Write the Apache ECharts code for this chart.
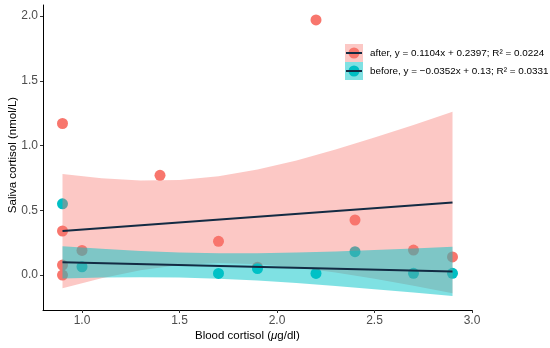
<!DOCTYPE html>
<html>
<head>
<meta charset="utf-8">
<script src="https://cdn.jsdelivr.net/npm/echarts@6/dist/echarts.min.js"></script>
<style>
html,body{margin:0;padding:0;background:#fff;}
#chart{width:550px;height:348px;}
</style>
</head>
<body>
<div id="chart"></div>
<script>
// ---- data ----
const xTicks = [1.0, 1.5, 2.0, 2.5, 3.0];
const yTicks = [0.0, 0.5, 1.0, 1.5, 2.0];

const groups = ['after', 'before'];

const afterX = [0.9, 0.9, 0.9, 0.9, 1.0, 1.4, 1.7, 1.9, 2.2, 2.4, 2.7, 2.9];
const afterY = [1.17, 0.34, 0.077, 0.0, 0.19, 0.77, 0.26, 0.06, 1.97, 0.425, 0.193, 0.14];

const beforeX = [0.9, 1.0, 1.7, 1.9, 2.2, 2.4, 2.7, 2.9];
const beforeY = [0.55, 0.064, 0.012, 0.05, 0.012, 0.18, 0.013, 0.013];

// regression coefficients (from legend)
const afterFit = {slope: 0.1104, intercept: 0.2397, r2: 0.0224};
const beforeFit = {slope: -0.0352, intercept: 0.13, r2: 0.0331};

// confidence band edges
const bandX = [0.9, 1.1, 1.3, 1.5, 1.7, 1.9, 2.1, 2.3, 2.5, 2.7, 2.9];
const afterUpper = [0.780, 0.747, 0.729, 0.733, 0.762, 0.814, 0.884, 0.969, 1.061, 1.158, 1.260];
const afterLower = [-0.102, -0.025, 0.037, 0.077, 0.092, 0.084, 0.058, 0.019, -0.029, -0.082, -0.140];
const beforeUpper = [0.223, 0.202, 0.185, 0.174, 0.168, 0.169, 0.174, 0.182, 0.193, 0.205, 0.218];
const beforeLower = [-0.027, -0.020, -0.017, -0.020, -0.028, -0.043, -0.062, -0.084, -0.109, -0.135, -0.162];

// ---- styles ----
const FONT = '"Liberation Sans", Arial, Helvetica, sans-serif';
const RED = '#F8766D';
const CYAN = '#00BFC4';
const RED_FILL = 'rgba(248,118,109,0.4)';
const CYAN_FILL = 'rgba(0,196,200,0.5)';
const NAVY = '#132B43';

function pairs(xs, ys) { return xs.map((x, i) => [x, ys[i]]); }
function fitLine(fit, xs) {
  const lo = Math.min(...xs), hi = Math.max(...xs);
  return [[lo, fit.slope * lo + fit.intercept], [hi, fit.slope * hi + fit.intercept]];
}
function bandSeries(upper, lower, fill, z) {
  return {
    type: 'custom',
    silent: true,
    z: z,
    data: [[bandX[0], upper[0]]],
    renderItem: function (params, api) {
      const pts = [];
      for (let i = 0; i < bandX.length; i++) pts.push(api.coord([bandX[i], upper[i]]));
      for (let i = bandX.length - 1; i >= 0; i--) pts.push(api.coord([bandX[i], lower[i]]));
      return {type: 'polygon', shape: {points: pts}, style: {fill: fill}};
    }
  };
}
function fmt(v) { return (v < 0 ? '\u2212' : '') + Math.abs(v); }
function label(name, fit) {
  return name + ', y = ' + fmt(fit.slope) + 'x + ' + fit.intercept + '; R\u00B2 = ' + fit.r2;
}

const chart = echarts.init(document.getElementById('chart'), null, {renderer: 'canvas'});

const legendItems = [];
[[afterFit, RED, RED_FILL, 44], [beforeFit, CYAN, CYAN_FILL, 62]].forEach((d, i) => {
  const [fit, col, fill, top] = d;
  legendItems.push({type: 'rect', left: 345, top: top, shape: {width: 18, height: 18}, style: {fill: fill}, silent: true});
  legendItems.push({type: 'circle', shape: {cx: 354, cy: top + 9, r: 5.5}, style: {fill: col}, silent: true});
  legendItems.push({type: 'line', shape: {x1: 346, y1: top + 9, x2: 362, y2: top + 9}, style: {stroke: NAVY, lineWidth: 2}, silent: true});
  legendItems.push({type: 'text', x: 370, y: top + 9, style: {text: label(groups[i], fit), fontSize: 9.9, fontFamily: FONT, fill: '#000', verticalAlign: 'middle', align: 'left'}, silent: true});
});

chart.setOption({
  animation: false,
  backgroundColor: '#fff',
  grid: {left: 43, right: 78, top: 5, bottom: 38, containLabel: false},
  xAxis: {
    type: 'value', min: 0.8, max: 3.0,
    splitLine: {show: false},
    axisLine: {onZero: false, lineStyle: {color: '#000', width: 1}},
    axisTick: {length: 3, lineStyle: {color: '#333', width: 1}, customValues: xTicks},
    axisLabel: {customValues: xTicks, formatter: v => v.toFixed(1), color: '#4D4D4D', fontSize: 12, fontFamily: FONT, margin: 5}
  },
  yAxis: {
    type: 'value', min: -0.27, max: 2.085,
    splitLine: {show: false},
    axisLine: {onZero: false, lineStyle: {color: '#000', width: 1}},
    axisTick: {length: 3, lineStyle: {color: '#333', width: 1}, customValues: yTicks},
    axisLabel: {customValues: yTicks, formatter: v => v.toFixed(1), color: '#4D4D4D', fontSize: 12, fontFamily: FONT, margin: 5}
  },
  graphic: [
    {type: 'text', left: 195, top: 330,
     style: {
       rich: {n: {fontSize: 11.5, fontFamily: FONT, fill: '#000'}, i: {fontSize: 11.5, fontStyle: 'italic', fontFamily: FONT, fill: '#000'}},
       text: '{n|Blood cortisol (}{i|\u03BC}{n|g/dl)}'
     }, silent: true},
    ...legendItems,
    {type: 'text', x: 7, y: 155, rotation: Math.PI / 2, style: {text: 'Saliva cortisol (nmol/L)', fontSize: 11.5, fontFamily: FONT, fill: '#000', align: 'center', verticalAlign: 'top'}, silent: true}
  ],
  series: [
    {type: 'scatter', name: 'after', z: 1, data: pairs(afterX, afterY), symbolSize: 11, itemStyle: {color: RED, opacity: 1}, silent: true},
    {type: 'scatter', name: 'before', z: 1, data: pairs(beforeX, beforeY), symbolSize: 11, itemStyle: {color: CYAN, opacity: 1}, silent: true},
    bandSeries(afterUpper, afterLower, RED_FILL, 2),
    {type: 'line', z: 3, data: fitLine(afterFit, afterX), symbol: 'none', lineStyle: {color: NAVY, width: 2}, silent: true},
    bandSeries(beforeUpper, beforeLower, CYAN_FILL, 4),
    {type: 'line', z: 5, data: fitLine(beforeFit, beforeX), symbol: 'none', lineStyle: {color: NAVY, width: 2}, silent: true}
  ]
});
</script>
</body>
</html>
